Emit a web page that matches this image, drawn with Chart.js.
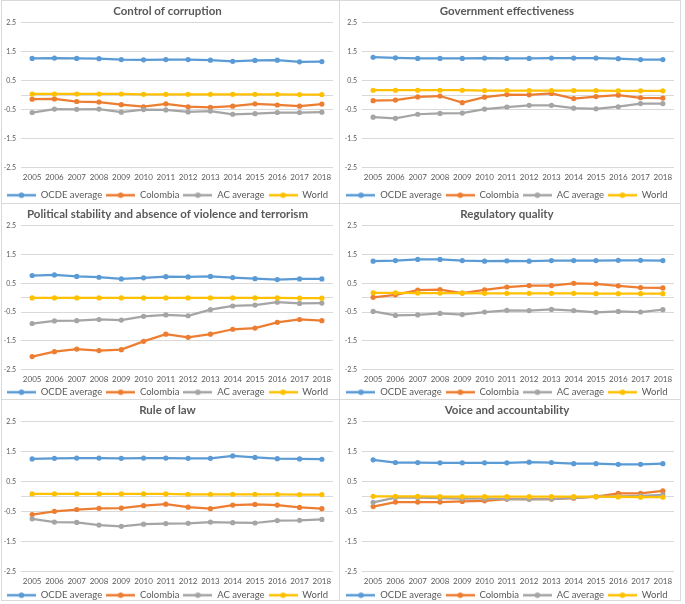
<!DOCTYPE html>
<html>
<head>
<meta charset="utf-8">
<script src="https://cdn.jsdelivr.net/npm/chart.js@4"></script>
<style>
  body { margin: 0; background: #fff; }
  #wrap { position: relative; width: 685px; height: 604px; background: #fff; }
  .panel { position: absolute; border: 1px solid #d9d9d9; box-sizing: border-box; background: #fff; }
</style>
</head>
<body>
<div id="wrap">
  <div class="panel" style="left:1px;top:0;width:339px;height:204px"><canvas id="c1"></canvas></div>
  <div class="panel" style="left:339px;top:0;width:342px;height:204px"><canvas id="c2"></canvas></div>
  <div class="panel" style="left:1px;top:203px;width:339px;height:197px"><canvas id="c3"></canvas></div>
  <div class="panel" style="left:339px;top:203px;width:342px;height:197px"><canvas id="c4"></canvas></div>
  <div class="panel" style="left:1px;top:399px;width:339px;height:202px"><canvas id="c5"></canvas></div>
  <div class="panel" style="left:339px;top:399px;width:342px;height:202px"><canvas id="c6"></canvas></div>
</div>
<script>
// ── Data ──────────────────────────────────────────────
const years = ['2005','2006','2007','2008','2009','2010','2011','2012','2013','2014','2015','2016','2017','2018'];
const seriesNames = ['OCDE average', 'Colombia', 'AC average', 'World'];
const seriesColors = ['#5b9bd5', '#ed7d31', '#a5a5a5', '#ffc000'];
const yTicks = [2.5, 1.5, 0.5, -0.5, -1.5, -2.5];

const corruptionOcde     = [1.27, 1.28, 1.27, 1.26, 1.23, 1.22, 1.23, 1.23, 1.21, 1.17, 1.20, 1.21, 1.15, 1.16];
const corruptionColombia = [-0.14, -0.13, -0.22, -0.24, -0.33, -0.40, -0.30, -0.40, -0.42, -0.38, -0.30, -0.34, -0.38, -0.31];
const corruptionAc       = [-0.60, -0.48, -0.49, -0.48, -0.59, -0.50, -0.51, -0.58, -0.55, -0.66, -0.64, -0.60, -0.60, -0.59];
const corruptionWorld    = [0.04, 0.04, 0.04, 0.04, 0.04, 0.03, 0.03, 0.03, 0.03, 0.03, 0.03, 0.03, 0.02, 0.02];

const effectOcde     = [1.31, 1.29, 1.27, 1.27, 1.27, 1.28, 1.27, 1.27, 1.28, 1.28, 1.28, 1.26, 1.23, 1.23];
const effectColombia = [-0.19, -0.17, -0.06, -0.03, -0.26, -0.07, 0.02, 0.01, 0.06, -0.12, -0.05, 0.00, -0.09, -0.10];
const effectAc       = [-0.76, -0.80, -0.66, -0.63, -0.62, -0.48, -0.41, -0.35, -0.35, -0.45, -0.47, -0.40, -0.29, -0.29];
const effectWorld    = [0.17, 0.17, 0.17, 0.17, 0.17, 0.16, 0.16, 0.16, 0.16, 0.16, 0.16, 0.15, 0.15, 0.15];

const stabilityOcde     = [0.77, 0.79, 0.74, 0.71, 0.65, 0.69, 0.73, 0.72, 0.74, 0.70, 0.66, 0.63, 0.65, 0.65];
const stabilityColombia = [-2.05, -1.88, -1.79, -1.84, -1.81, -1.52, -1.27, -1.38, -1.27, -1.10, -1.06, -0.86, -0.76, -0.80];
const stabilityAc       = [-0.90, -0.81, -0.80, -0.76, -0.78, -0.65, -0.60, -0.63, -0.42, -0.29, -0.26, -0.16, -0.20, -0.19];
const stabilityWorld    = [-0.01, -0.01, -0.01, -0.01, -0.01, -0.01, -0.01, -0.01, -0.01, -0.01, -0.01, -0.01, -0.02, -0.02];

const regulatoryOcde     = [1.27, 1.29, 1.33, 1.33, 1.29, 1.27, 1.28, 1.27, 1.29, 1.29, 1.29, 1.30, 1.30, 1.29];
const regulatoryColombia = [0.01, 0.10, 0.26, 0.28, 0.16, 0.27, 0.37, 0.42, 0.42, 0.50, 0.48, 0.41, 0.35, 0.34];
const regulatoryAc       = [-0.48, -0.62, -0.60, -0.55, -0.59, -0.50, -0.44, -0.45, -0.41, -0.45, -0.51, -0.48, -0.50, -0.42];
const regulatoryWorld    = [0.17, 0.17, 0.16, 0.16, 0.16, 0.15, 0.15, 0.15, 0.15, 0.15, 0.14, 0.14, 0.14, 0.14];

const lawOcde     = [1.26, 1.28, 1.29, 1.29, 1.28, 1.29, 1.29, 1.28, 1.28, 1.36, 1.31, 1.27, 1.26, 1.25];
const lawColombia = [-0.60, -0.49, -0.43, -0.39, -0.38, -0.30, -0.25, -0.35, -0.40, -0.28, -0.26, -0.28, -0.36, -0.40];
const lawAc       = [-0.74, -0.85, -0.86, -0.95, -0.99, -0.92, -0.90, -0.89, -0.85, -0.87, -0.88, -0.80, -0.79, -0.76];
const lawWorld    = [0.09, 0.09, 0.09, 0.09, 0.09, 0.09, 0.09, 0.08, 0.08, 0.08, 0.08, 0.08, 0.07, 0.07];

const voiceOcde     = [1.23, 1.14, 1.14, 1.13, 1.13, 1.13, 1.13, 1.15, 1.14, 1.10, 1.10, 1.08, 1.08, 1.10];
const voiceColombia = [-0.33, -0.18, -0.18, -0.18, -0.16, -0.14, -0.08, -0.08, -0.08, -0.05, 0.00, 0.11, 0.11, 0.19];
const voiceAc       = [-0.19, -0.03, -0.03, -0.05, -0.07, -0.07, -0.08, -0.09, -0.08, -0.04, 0.00, 0.01, 0.03, 0.06];
const voiceWorld    = [0.01, 0.01, 0.01, 0.00, 0.00, 0.00, 0.00, 0.00, 0.00, 0.00, 0.00, -0.01, -0.02, -0.02];

const FONT = 'Lato, "Open Sans", sans-serif';
const TEXT = '#595959';
const GRID = '#d9d9d9';

// legend symbol: short line with a dot in the middle, like the office legend
function legendSymbol(color) {
    const c = document.createElement('canvas');
    c.width = 29; c.height = 8;
    const g = c.getContext('2d');
    g.strokeStyle = color; g.lineWidth = 2.5;
    g.beginPath(); g.moveTo(0, 4); g.lineTo(29, 4); g.stroke();
    g.fillStyle = color;
    g.beginPath(); g.arc(14.5, 4, 2.8, 0, Math.PI * 2); g.fill();
    return c;
}
const symbols = seriesColors.map(legendSymbol);

// box = {yw, bottom, xh}: y label column width, legend push-down, height kept for the year labels
function renderPanel(id, title, values, box) {
    new Chart(document.getElementById(id), {
        type: 'line',
        data: {
            labels: years,
            datasets: values.map((v, i) => ({
                label: seriesNames[i],
                data: v,
                borderColor: seriesColors[i],
                backgroundColor: seriesColors[i],
                borderWidth: 2.25,
                pointRadius: 2.6,
                pointHoverRadius: 2.6,
                pointBorderWidth: 0,
                pointStyle: 'circle',
                tension: 0,
                order: 3 - i
            }))
        },
        options: {
            responsive: true,
            maintainAspectRatio: false,
            animation: false,
            layout: { padding: { left: 0, right: 6, top: 0, bottom: box.bottom } },
            plugins: {
                title: {
                    display: true,
                    text: title,
                    color: TEXT,
                    font: { family: FONT, size: 11.5, weight: 'bold' },
                    padding: { top: 3, bottom: 5 }
                },
                legend: {
                    position: 'bottom',
                    labels: {
                        color: TEXT,
                        font: { family: FONT, size: 9.5 },
                        usePointStyle: true,
                        pointStyleWidth: 29,
                        boxHeight: 8,
                        padding: 4,
                        generateLabels: chart => chart.data.datasets.map((ds, i) => ({
                            text: ds.label,
                            fillStyle: ds.borderColor,
                            strokeStyle: ds.borderColor,
                            pointStyle: symbols[i],
                            lineWidth: 0,
                            fontColor: TEXT,
                            datasetIndex: i
                        }))
                    }
                },
                tooltip: { enabled: false }
            },
            scales: {
                x: {
                    offset: true,
                    grid: { display: false, drawTicks: false },
                    border: { display: false },
                    afterFit: s => { s.height = box.xh; },
                    ticks: { color: TEXT, font: { family: FONT, size: 8 }, maxRotation: 0, autoSkip: false, padding: 5 }
                },
                y: {
                    min: -2.5,
                    max: 2.5,
                    afterBuildTicks: s => { s.ticks = yTicks.concat([0]).map(v => ({ value: v })); },
                    afterFit: s => { s.width = box.yw; },
                    grid: { color: GRID, lineWidth: 1, drawTicks: false },
                    border: { display: false },
                    ticks: {
                        color: TEXT,
                        font: { family: FONT, size: 7 },
                        padding: 5,
                        callback: v => v === 0 ? '' : v.toFixed(1)
                    }
                }
            }
        }
    });
}

renderPanel('c1', 'Control of corruption', [corruptionOcde, corruptionColombia, corruptionAc, corruptionWorld], { yw: 19, bottom: -7, xh: 19 });
renderPanel('c2', 'Government effectiveness', [effectOcde, effectColombia, effectAc, effectWorld], { yw: 22, bottom: -7, xh: 19 });
renderPanel('c3', 'Political stability and absence of violence and terrorism', [stabilityOcde, stabilityColombia, stabilityAc, stabilityWorld], { yw: 19, bottom: -8, xh: 14 });
renderPanel('c4', 'Regulatory quality', [regulatoryOcde, regulatoryColombia, regulatoryAc, regulatoryWorld], { yw: 22, bottom: -8, xh: 14 });
renderPanel('c5', 'Rule of law', [lawOcde, lawColombia, lawAc, lawWorld], { yw: 19, bottom: -10, xh: 15 });
renderPanel('c6', 'Voice and accountability', [voiceOcde, voiceColombia, voiceAc, voiceWorld], { yw: 22, bottom: -10, xh: 15 });
</script>
</body>
</html>
